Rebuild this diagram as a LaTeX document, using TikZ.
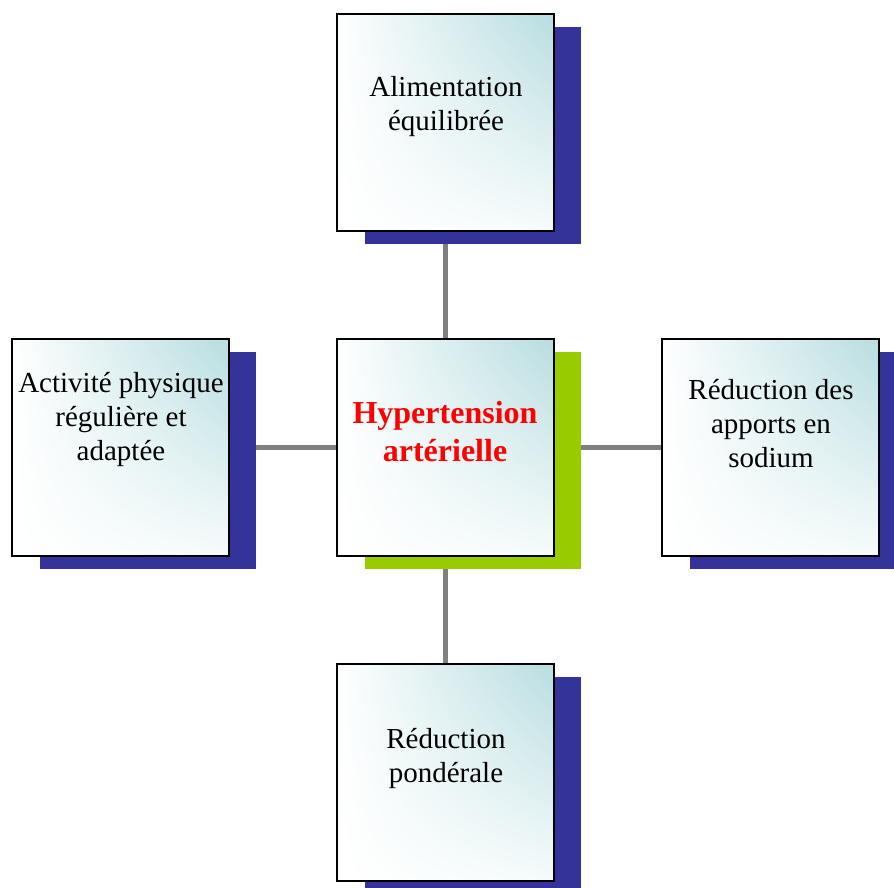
\documentclass[tikz,border=0pt]{standalone}
\usepackage{fontspec}
\setmainfont{Liberation Serif}
\usetikzlibrary{shadings}
\definecolor{navyS}{RGB}{51,51,153}
\definecolor{greenS}{RGB}{153,204,0}
\definecolor{cyanF}{RGB}{184,221,224}
\definecolor{connG}{RGB}{128,128,128}
\begin{document}
\begin{tikzpicture}[x=1pt,y=-1pt,
  box/.style={rectangle, minimum width=217pt, minimum height=217pt, inner sep=0pt,
    draw=black, line width=1.6pt,
    upper right=cyanF, lower right=cyanF!12!white, upper left=white, lower left=white},
  shad/.style={rectangle, minimum width=216pt, minimum height=217pt, inner sep=0pt, fill=#1},
  txt/.style={anchor=base, align=center, inner sep=0pt, font=\fontsize{29}{34}\selectfont},
  btxt/.style={anchor=base, align=center, inner sep=0pt, text=red, font=\fontsize{32}{38}\selectfont\bfseries},
  conn/.style={draw=connG, line width=5pt}]
\useasboundingbox (0,0) rectangle (894,888);
% shadows
\node[shad=navyS] (topS) at (473,135.5) {};
\node[shad=greenS] (cS) at (473,460.5) {};
\node[shad=navyS] (leftS) at (147.5,460.5) {};
\node[shad=navyS] (rightS) at (797.5,460.5) {};
\node[shad=navyS] (botS) at (473,785.5) {};
% boxes
\node[box] (top) at (445.5,122.5) {};
\node[box] (c) at (445.5,447.5) {};
\node[box] (left) at (120.5,447.5) {};
\node[box] (right) at (770.5,447.5) {};
\node[box] (bot) at (445.5,772.5) {};
% connectors
\draw[conn] (topS.south -| c.north) -- (c.north);
\draw[conn] (cS.south -| c.south) -- (bot.north);
\draw[conn] (leftS.east |- c.west) -- (c.west);
\draw[conn] (cS.east |- c.east) -- (right.west);
% texts
\node[txt] (topT) at (446,131) {Alimentation\\équilibrée};
\node[btxt] (cT) at (445,461) {Hypertension\\artérielle};
\node[txt] (leftT) at (121,460) {Activité physique\\régulière et\\adaptée};
\node[txt] (rightT) at (771,467) {Réduction des\\apports en\\sodium};
\node[txt] (botT) at (446,782) {Réduction\\pondérale};
\end{tikzpicture}
\end{document}
